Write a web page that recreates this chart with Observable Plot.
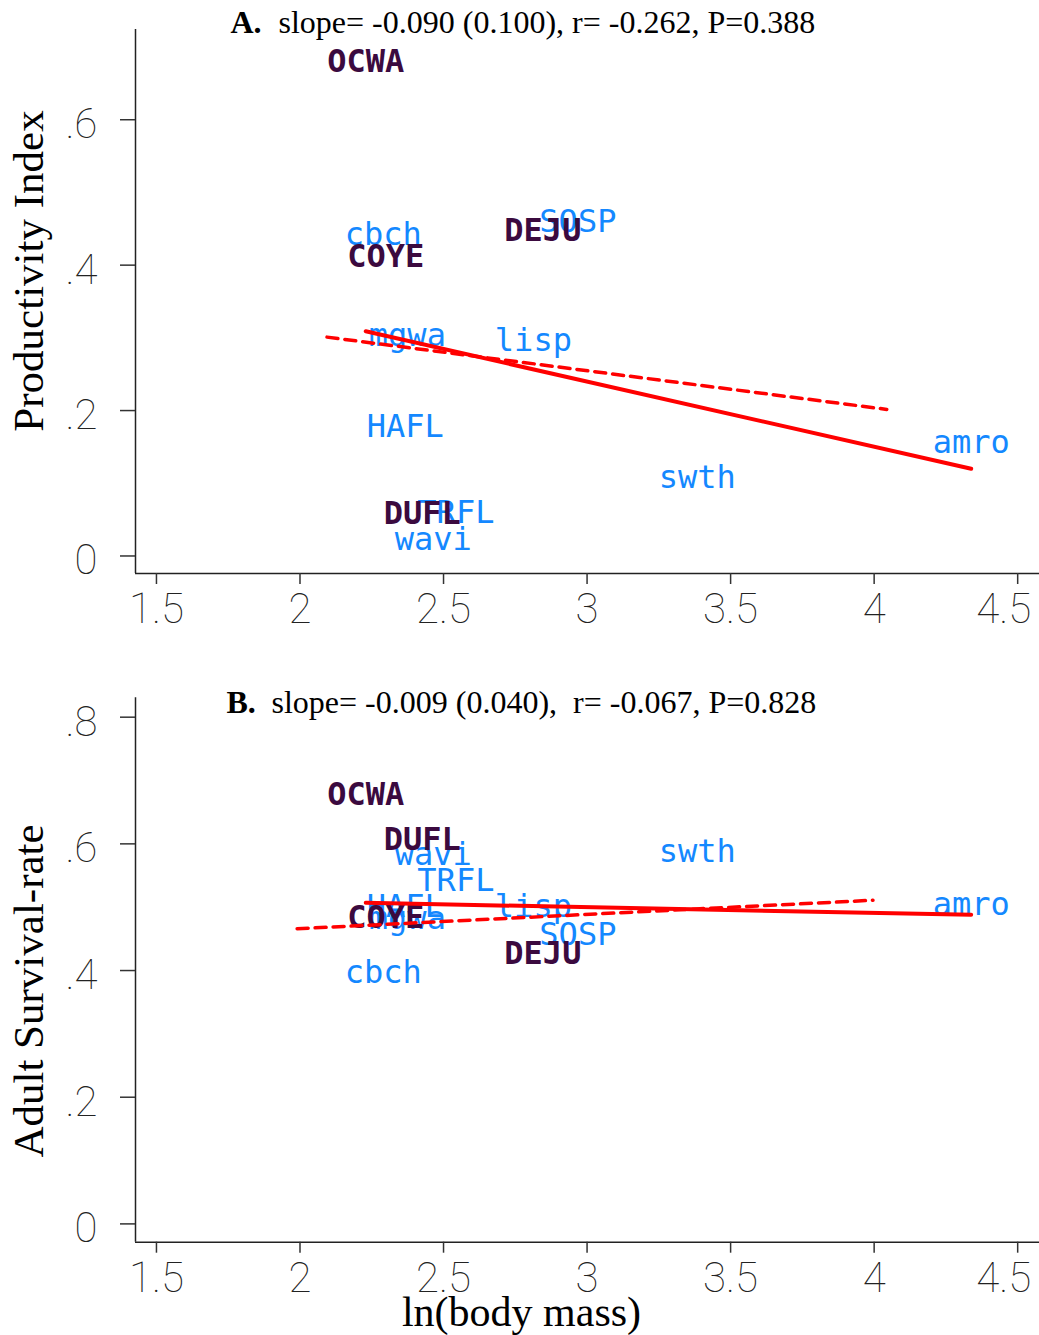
<!DOCTYPE html>
<html><head><meta charset="utf-8">
<script src="https://cdn.jsdelivr.net/npm/d3@7"></script>
<script src="https://cdn.jsdelivr.net/npm/@observablehq/plot@0.6"></script>
<style>body{margin:0;background:#fff}#chart{width:1039px}svg{display:block}</style>
</head><body><div id="chart"></div>
<script>
// Species labels and values
const species = ["OCWA","cbch","COYE","DEJU","SOSP","mgwa","lisp","HAFL","amro","swth","DUFL","TRFL","wavi"];
const group   = ["dark","blue","dark","dark","blue","blue","blue","blue","blue","blue","dark","blue","blue"];
const lnMass  = [2.229,2.290,2.299,2.846,2.968,2.374,2.813,2.367,4.338,3.384,2.426,2.543,2.464];
const productivity = [0.680,0.442,0.411,0.447,0.460,0.303,0.296,0.178,0.156,0.108,0.058,0.059,0.023];
const survival     = [0.678,0.397,0.483,0.426,0.457,0.481,0.501,0.501,0.504,0.588,0.606,0.541,0.583];

// Fitted lines (endpoints)
const fitASolidX = [2.229, 4.338], fitASolidY = [0.309, 0.120];
const fitADashX  = [2.094, 4.044], fitADashY  = [0.301, 0.2016];
const fitBSolidX = [2.229, 4.338], fitBSolidY = [0.507, 0.488];
const fitBDashX  = [1.990, 3.996], fitBDashY  = [0.466, 0.511];

const xTicks  = [1.5, 2, 2.5, 3, 3.5, 4, 4.5];
const yTicksA = [0, 0.2, 0.4, 0.6];
const yTicksB = [0, 0.2, 0.4, 0.6, 0.8];

const titleA = ["A.", "slope= -0.090 (0.100), r= -0.262, P=0.388"];
const titleB = ["B.", "slope= -0.009 (0.040),  r= -0.067, P=0.828"];
const yTitleA = "Productivity Index";
const yTitleB = "Adult Survival-rate";
const xTitle = "ln(body mass)";

const points = species.map((s, i) => ({species: s, group: group[i], x: lnMass[i], prod: productivity[i], surv: survival[i]}));
const darkPts = points.filter(d => d.group === "dark");
const bluePts = points.filter(d => d.group === "blue");
const line = (xs, ys) => xs.map((x, i) => ({x, y: ys[i]}));

const COLORS = {dark: "#3b0a3f", blue: "#1488ff"};
const SERIF = "'Liberation Serif','Times New Roman',serif";
const TICKFONT = "Roboto, 'DejaVu Sans', sans-serif";
const LABELFONT = "'DejaVu Sans Mono', monospace";
const W = 1039, ML = 135;
const xDomain = [1.427, 4.576];
const fmtY = d => d === 0 ? "0" : d3.format(".1f")(d).replace(/^0/, "");
const tickText = {fontSize: 42, fontFamily: TICKFONT, fontWeight: 100, label: null, fill: "#222"};

function panel(o) {
  const frameCenterY = (o.marginTop + (o.height - o.marginBottom)) / 2;
  const marks = [
    Plot.ruleX([xDomain[0]], {stroke: "#222", strokeWidth: 1.5}),
    Plot.ruleY([o.yDomain[0]], {stroke: "#222", strokeWidth: 1.5}),
    Plot.axisX(xTicks, {tickSize: 11, tickFormat: () => "", label: null, stroke: "#333", strokeWidth: 1.5}),
    Plot.axisX(xTicks.slice(0, -1), {tickSize: 0, tickPadding: 20, tickFormat: d => String(d), ...tickText}),
    Plot.axisX(xTicks.slice(-1), {tickSize: 0, tickPadding: 20, dx: -14, tickFormat: d => String(d), ...tickText}),
    Plot.axisY(o.yTicks, {tickSize: 15, tickFormat: () => "", label: null, stroke: "#333", strokeWidth: 1.5}),
    Plot.axisY(o.yTicks, {tickSize: 0, tickPadding: 38, dy: 5, tickFormat: fmtY, ...tickText}),
    Plot.text(bluePts, {x: "x", y: o.field, text: "species", fill: COLORS.blue, fontSize: 32, fontFamily: LABELFONT}),
    Plot.text(darkPts, {x: "x", y: o.field, text: "species", fill: COLORS.dark, fontSize: 32, fontFamily: LABELFONT, fontWeight: "bold"}),
    Plot.line(line(o.dashX, o.dashY), {x: "x", y: "y", stroke: "#ff0000", strokeWidth: 3.5, strokeDasharray: "11,7"}),
    Plot.line(line(o.solidX, o.solidY), {x: "x", y: "y", stroke: "#ff0000", strokeWidth: 4}),
    Plot.text([o.title[0]], {frameAnchor: "top-left", textAnchor: "start", lineAnchor: "middle", dx: o.titleDx[0], dy: o.titleDy, fontSize: 32, fontFamily: SERIF, fontWeight: "bold", fill: "#000"}),
    Plot.text([o.title[1]], {frameAnchor: "top-left", textAnchor: "start", lineAnchor: "middle", dx: o.titleDx[1], dy: o.titleDy, fontSize: 32, fontFamily: SERIF, fill: "#000"}),
    Plot.text([o.yTitle], {frameAnchor: "left", textAnchor: "middle", lineAnchor: "middle", rotate: -90, dx: 29.2 - ML, dy: o.yTitleCenter - frameCenterY, fontSize: 43, fontFamily: SERIF, fill: "#000"})
  ];
  if (o.xTitle) {
    marks.push(Plot.text([o.xTitle], {frameAnchor: "bottom", textAnchor: "middle", lineAnchor: "middle", dx: 521 - (ML + W) / 2, dy: o.xTitleDy, fontSize: 42, fontFamily: SERIF, fill: "#000"}));
  }
  return Plot.plot({
    width: W, height: o.height,
    marginLeft: ML, marginRight: 0, marginTop: o.marginTop, marginBottom: o.marginBottom,
    x: {domain: xDomain},
    y: {domain: o.yDomain},
    style: {background: "white", overflow: "visible"},
    marks
  });
}

const chart = document.getElementById("chart");
chart.append(panel({
  field: "prod", height: 660, marginTop: 29, marginBottom: 87,
  yDomain: [-0.0241, 0.7241], yTicks: yTicksA,
  solidX: fitASolidX, solidY: fitASolidY, dashX: fitADashX, dashY: fitADashY,
  title: titleA, titleDx: [95, 143], titleDy: -7.2,
  yTitle: yTitleA, yTitleCenter: 270.5
}));
chart.append(panel({
  field: "surv", height: 675, marginTop: 37.3, marginBottom: 93.3,
  yDomain: [-0.0289, 0.8306], yTicks: yTicksB,
  solidX: fitBSolidX, solidY: fitBSolidY, dashX: fitBDashX, dashY: fitBDashY,
  title: titleB, titleDx: [91, 136], titleDy: 4.5,
  yTitle: yTitleB, yTitleCenter: 330.5,
  xTitle: xTitle, xTitleDy: 69.9
}));
</script></body></html>
